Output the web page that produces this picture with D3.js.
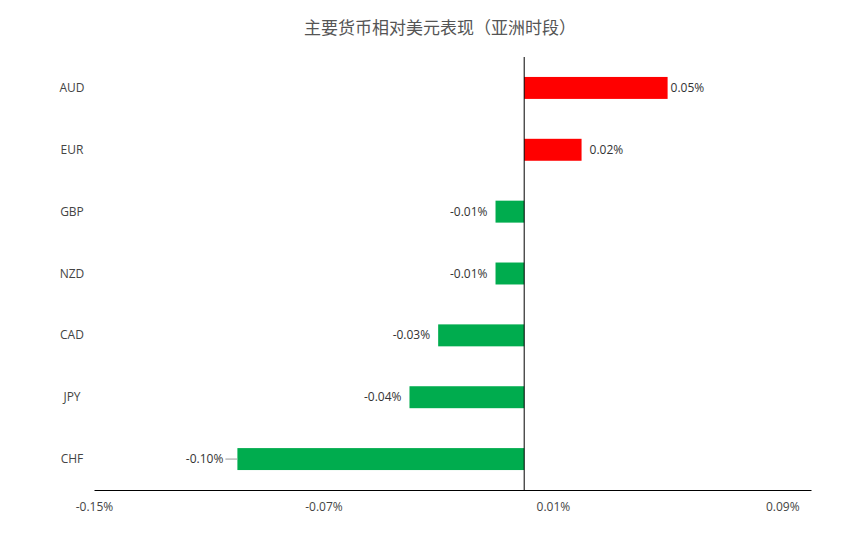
<!DOCTYPE html>
<html><head><meta charset="utf-8">
<script src="https://cdn.jsdelivr.net/npm/d3@7"></script>
<style>body{margin:0;background:#fff;font-family:"Noto Sans CJK SC","Open Sans",sans-serif;}</style>
</head><body>
<svg id="c" width="861" height="535"></svg>
<script>
const categories = ["AUD","EUR","GBP","NZD","CAD","JPY","CHF"];
const values = [0.05,0.02,-0.01,-0.01,-0.03,-0.04,-0.10];
const labels = ["0.05%","0.02%","-0.01%","-0.01%","-0.03%","-0.04%","-0.10%"];
const tickValues = [-0.15,-0.07,0.01,0.09];
const tickLabels = ["-0.15%","-0.07%","0.01%","0.09%"];

const svg = d3.select("#c");
const x = d3.scaleLinear().domain([-0.15,0.1]).range([94,811]);
const y = d3.scaleBand().domain(categories).range([57,490]).paddingInner(0.645).paddingOuter(0.3225);

svg.append("text").attr("x",440).attr("y",34).attr("text-anchor","middle")
  .attr("font-size",17).attr("fill","#555").text("主要货币相对美元表现（亚洲时段）");

svg.append("g").selectAll("rect").data(values).join("rect")
  .attr("x",d=>x(Math.min(0,d))).attr("width",d=>Math.abs(x(d)-x(0)))
  .attr("y",(d,i)=>y(categories[i])).attr("height",y.bandwidth())
  .attr("fill",d=>d>0?"#ff0000":"#00ac4e");

// zero line
svg.append("line").attr("x1",x(0)).attr("x2",x(0)).attr("y1",57).attr("y2",490).attr("stroke","#000");

// x axis
const xa = svg.append("g").attr("transform","translate(0,490)")
  .call(d3.axisBottom(x).tickValues(tickValues).tickFormat((d,i)=>tickLabels[i]).tickSize(0).tickPadding(12));
xa.select(".domain").attr("stroke","#000");
xa.selectAll("text").attr("font-size",12).attr("fill","#444").attr("font-family","Open Sans, sans-serif");

// category labels
svg.append("g").selectAll("text").data(categories).join("text")
  .attr("x",72).attr("y",d=>y(d)+y.bandwidth()/2+4).attr("text-anchor","middle")
  .attr("font-size",12).attr("fill","#444").attr("font-family","Open Sans, sans-serif").text(d=>d);

// value labels
svg.append("g").selectAll("text").data(values).join("text")
  .attr("x",(d,i)=>d>0?x(d)+(i===0?3:8):(i===6?x(d)-14:x(d)-8))
  .attr("y",(d,i)=>y(categories[i])+y.bandwidth()/2+4)
  .attr("text-anchor",d=>d>0?"start":"end")
  .attr("font-size",12).attr("fill","#333").attr("font-family","Open Sans, sans-serif")
  .text((d,i)=>labels[i]);
// leader for CHF
svg.append("line").attr("x1",x(values[6])-12).attr("x2",x(values[6])).attr("y1",y("CHF")+y.bandwidth()/2).attr("y2",y("CHF")+y.bandwidth()/2).attr("stroke","#999");
</script></body></html>
